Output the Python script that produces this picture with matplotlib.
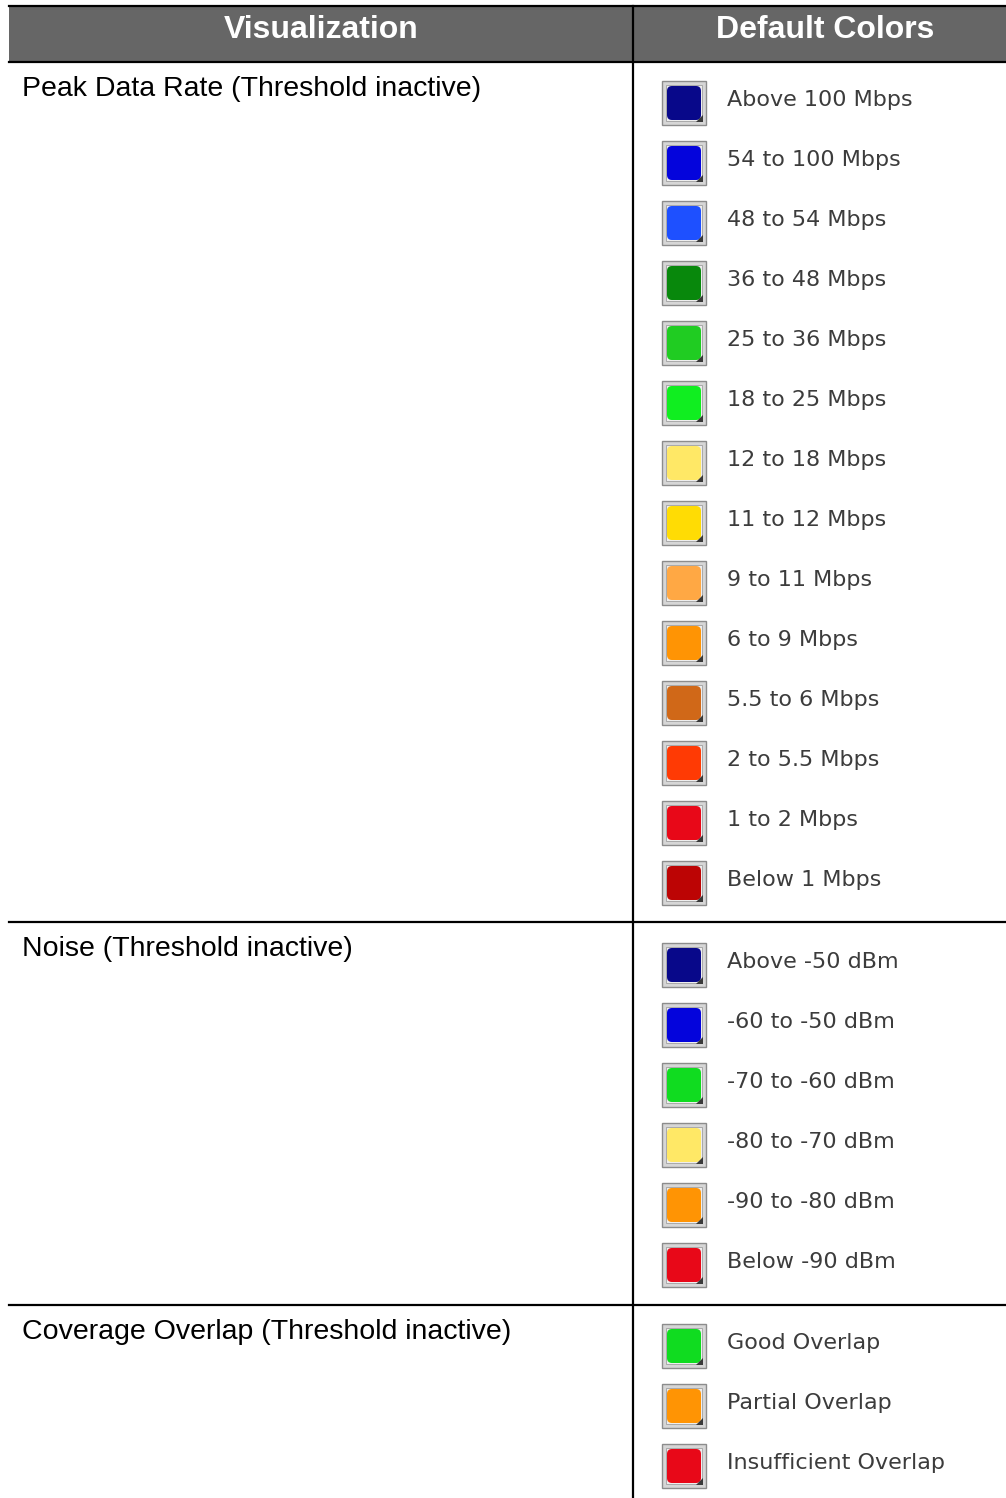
import matplotlib
matplotlib.use("Agg")
import matplotlib.pyplot as plt
from matplotlib.patches import Rectangle, FancyBboxPatch, Polygon

# ---- data ----
headers = ["Visualization", "Default Colors"]
sections = ["Peak Data Rate (Threshold inactive)",
            "Noise (Threshold inactive)",
            "Coverage Overlap (Threshold inactive)"]
peak_labels = ["Above 100 Mbps", "54 to 100 Mbps", "48 to 54 Mbps", "36 to 48 Mbps",
               "25 to 36 Mbps", "18 to 25 Mbps", "12 to 18 Mbps", "11 to 12 Mbps",
               "9 to 11 Mbps", "6 to 9 Mbps", "5.5 to 6 Mbps", "2 to 5.5 Mbps",
               "1 to 2 Mbps", "Below 1 Mbps"]
peak_colors = ["#08088a", "#0404dc", "#1e50ff", "#08880c", "#20cc22", "#10ee20",
               "#ffe866", "#ffdc04", "#ffa844", "#ff9404", "#d06818", "#ff3a04",
               "#e80818", "#bc0404"]
noise_labels = ["Above -50 dBm", "-60 to -50 dBm", "-70 to -60 dBm",
                "-80 to -70 dBm", "-90 to -80 dBm", "Below -90 dBm"]
noise_colors = ["#08088a", "#0404dc", "#10dc20", "#ffe866", "#ff9404", "#e80818"]
overlap_labels = ["Good Overlap", "Partial Overlap", "Insufficient Overlap"]
overlap_colors = ["#10dc20", "#ff9404", "#e80818"]

section_items = [(peak_labels, peak_colors), (noise_labels, noise_colors),
                 (overlap_labels, overlap_colors)]

# ---- layout (pixels) ----
W, H = 1006, 1498
fig = plt.figure(figsize=(W / 100, H / 100), dpi=100)
ax = fig.add_axes([0, 0, 1, 1])
ax.set_xlim(0, W)
ax.set_ylim(H, 0)
ax.axis("off")

left, divider = 9, 633
head_top, head_bot = 6, 62
row_step = 60
first_offs = [41, 43, 41]
sec_tops = [head_bot, 922, 1305]
lw = 1.6

# header
ax.add_patch(Rectangle((left, head_top), W - left, head_bot - head_top,
                       facecolor="#666666", edgecolor="none", zorder=1))
ax.plot([left, W], [head_top, head_top], color="black", lw=lw, zorder=3)
ax.plot([left, W], [head_bot, head_bot], color="black", lw=lw, zorder=3)
ax.plot([divider, divider], [head_top, H], color="black", lw=lw, zorder=3)
ax.text(321, 30, headers[0], color="white", fontsize=23, fontweight="bold",
        family="Liberation Sans", ha="center", va="center")
ax.text(825, 30, headers[1], color="white", fontsize=23, fontweight="bold",
        family="Liberation Sans", ha="center", va="center")

# section separators
for y in sec_tops[1:]:
    ax.plot([left, W], [y, y], color="black", lw=lw, zorder=3)


def swatch(cy, color):
    x0, size = 662, 44
    y0 = cy - size / 2
    ax.add_patch(Rectangle((x0, y0), size, size, facecolor="#d6d6d6",
                           edgecolor="#8c8c8c", lw=1.0, zorder=4))
    ax.add_patch(Rectangle((x0 + 4, y0 + 4), size - 8, size - 8, facecolor="#eeeeee",
                           edgecolor="#a0a0a0", lw=0.6, zorder=5))
    ax.add_patch(FancyBboxPatch((x0 + 5, y0 + 5), size - 10, size - 10,
                                boxstyle="round,pad=0,rounding_size=5",
                                facecolor=color, edgecolor="none", zorder=6))
    ax.add_patch(Polygon([(x0 + size - 3, y0 + size - 10), (x0 + size - 3, y0 + size - 3),
                          (x0 + size - 10, y0 + size - 3)],
                         closed=True, facecolor="#3a3a3a", edgecolor="none", zorder=7))


for top, off, title, (labels, colors) in zip(sec_tops, first_offs, sections, section_items):
    ax.text(22, top + 34, title, fontsize=20.5, family="Liberation Sans",
            color="black", ha="left", va="baseline")
    for i, (lab, col) in enumerate(zip(labels, colors)):
        cy = top + off + i * row_step
        swatch(cy, col)
        ax.text(727, cy - 3, lab, fontsize=16, family="DejaVu Sans",
                color="#3c3c3c", ha="left", va="center")

fig.savefig("out.png", dpi=100, facecolor="white")
